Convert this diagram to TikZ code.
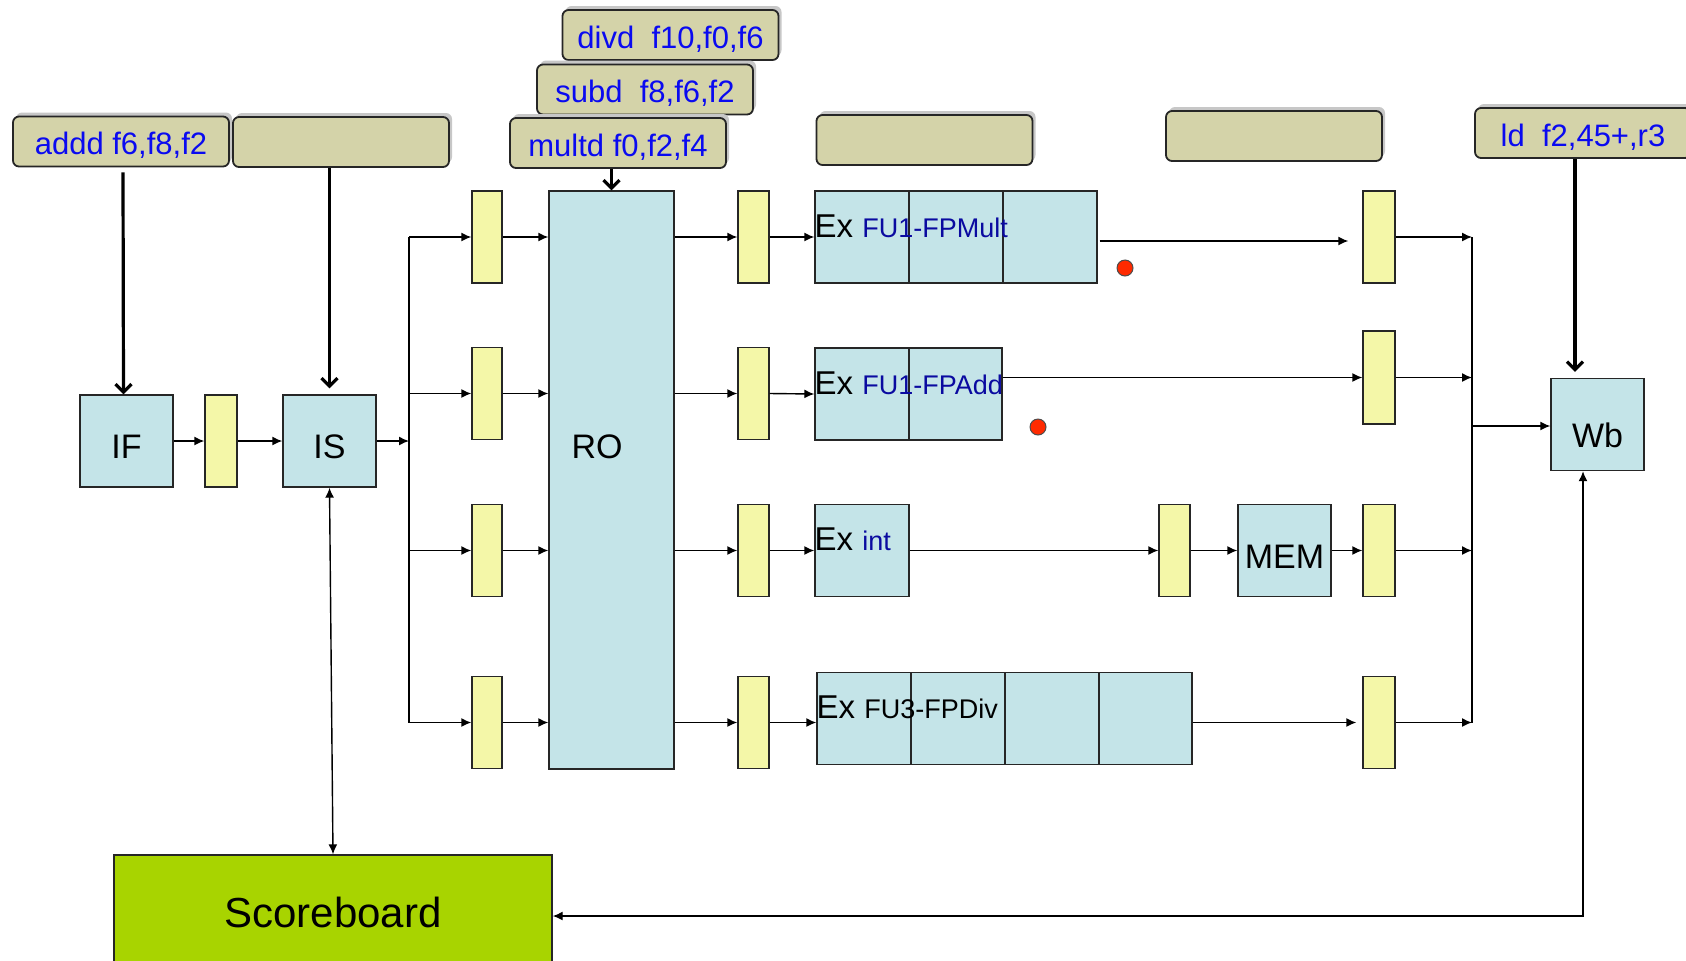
\documentclass[tikz,border=0pt]{standalone}
\usepackage{fontspec}
\setmainfont{Liberation Sans}
\usepackage{xcolor}
\usetikzlibrary{arrows.meta,shapes,positioning,calc,shadows}

\definecolor{stageblue}{HTML}{C4E4E8}
\definecolor{latchyellow}{HTML}{F4F7A8}
\definecolor{instrtan}{HTML}{D4D3A9}
\definecolor{scoregreen}{HTML}{A8D400}
\definecolor{instrblue}{HTML}{0A0AF0}
\definecolor{fublue}{HTML}{0A0AA0}
\definecolor{dotred}{HTML}{FF2A00}

\newcommand{\fulabel}[2]{{\fontsize{13.5}{16}\selectfont\color{#1}#2}}

\begin{document}
\begin{tikzpicture}[x=0.5pt,y=-0.5pt,
    stagebox/.style={rectangle,draw=black!85,line width=0.7pt,fill=stageblue,inner sep=0pt,minimum width=46.5pt,minimum height=46pt,text height=17.5pt,text depth=0pt,font=\fontsize{17}{20}\selectfont},
    latchbox/.style={rectangle,draw=black!85,line width=0.7pt,fill=latchyellow,inner sep=0pt,minimum width=15pt,minimum height=46pt},
    instrbox/.style={rectangle,draw=black!85,line width=0.9pt,fill=instrtan,rounded corners=3pt,minimum width=108pt,minimum height=25pt,inner sep=0pt,text height=13pt,text depth=0pt,text=instrblue,font=\fontsize{15.5}{18}\selectfont,drop shadow={shadow xshift=1.5pt,shadow yshift=2pt,fill=black!22,opacity=1}},
    exlabel/.style={anchor=base west,inner sep=0pt,font=\fontsize{16.5}{20}\selectfont},
    wire/.style={line width=0.7pt,-{Latex[length=5pt,width=4.5pt]}},
    twoway/.style={line width=0.7pt,{Latex[length=5pt,width=4.5pt]}-{Latex[length=5pt,width=4.5pt]}},
    busline/.style={line width=0.7pt},
    feed/.style={line width=1.6pt,-{Straight Barb[length=4pt,width=8pt]}},
    reddot/.style={circle,fill=dotred,draw=black!70,line width=0.5pt,minimum size=8pt,inner sep=0pt}
]
\useasboundingbox (0,0) rectangle (1686,960);

% instruction queue
\node[instrbox] (addd) at (121,141.5) {addd f6,f8,f2};
\node[instrbox] (isq) at (341,142) {};
\node[instrbox] (divd) at (670.5,35) {divd~~f10,f0,f6};
\node[instrbox] (subd) at (645,89.5) {subd~~f8,f6,f2};
\node[instrbox] (multd) at (618,143) {multd f0,f2,f4};
\node[instrbox] (exq) at (924.5,140) {};
\node[instrbox] (memq) at (1274,136) {};
\node[instrbox] (ld) at (1583,133) {ld~~f2,45+,r3};

% front end
\node[stagebox] (IF) at (126.5,441) {IF};
\node[latchbox,minimum width=16pt] (l0) at (221,441) {};
\node[stagebox] (IS) at (329.5,441) {IS};

% read operands
\node[stagebox,minimum width=62.5pt,minimum height=289pt] (RO) at (611.5,480) {};
\node[font=\fontsize{17}{20}\selectfont] (rolbl) at (597,447) {RO};
\foreach \row/\y in {a/237,b/393.5,c/550.5,d/722.5}{
  \node[latchbox] (la\row) at (487,\y) {};
  \node[latchbox,minimum width=15.5pt] (lb\row) at (753.5,\y) {};
}

% functional units
\node[stagebox,minimum width=47pt] (exm1) at (862,237) {};
\node[stagebox,minimum width=47pt] (exm2) at (956,237) {};
\node[stagebox,minimum width=47pt] (exm3) at (1050,237) {};
\node[stagebox,minimum width=47pt] (exa1) at (862,394) {};
\node[stagebox,minimum width=46.5pt] (exa2) at (955.5,394) {};
\node[stagebox,minimum width=47pt] (exi) at (862,550.5) {};
\node[stagebox,minimum width=47pt] (exd1) at (864,718.5) {};
\node[stagebox,minimum width=47pt] (exd2) at (958,718.5) {};
\node[stagebox,minimum width=47pt] (exd3) at (1052,718.5) {};
\node[stagebox,minimum width=46.5pt] (exd4) at (1145.5,718.5) {};
\node[exlabel] (exmlbl) at (exm1.west) {Ex \fulabel{fublue}{FU1-FPMult}};
\node[exlabel] (exalbl) at (exa1.west) {Ex \fulabel{fublue}{FU1-FPAdd}};
\node[exlabel] (exilbl) at (exi.west) {Ex \fulabel{fublue}{int}};
\node[exlabel] (exdlbl) at (exd1.west) {Ex \fulabel{black}{FU3-FPDiv}};
\node[latchbox,minimum width=15.5pt] (lm) at (1174.5,550.5) {};
\node[stagebox] (MEM) at (1284.5,550.5) {MEM};
\node[reddot] (dot1) at (1125,268) {};
\node[reddot] (dot2) at (1038,427) {};

% write back
\node[latchbox,minimum width=16pt] (lca) at (1379,237) {};
\node[latchbox,minimum width=16pt,minimum height=46.5pt] (lcb) at (1379,377.5) {};
\node[latchbox,minimum width=16pt] (lcc) at (1379,550.5) {};
\node[latchbox,minimum width=16pt] (lcd) at (1379,722.5) {};
\node[stagebox,text height=23pt] (Wb) at (1597.5,424.5) {Wb};
\node[stagebox,fill=scoregreen,minimum width=219pt,minimum height=57pt,text height=15pt,font=\fontsize{21}{24}\selectfont] (sb) at (333,912) {Scoreboard};

% connectors
\coordinate (busl) at (409,441);
\coordinate (busr) at (1472,426);
\coordinate (fb) at (1583,916);
\draw[wire] (IF) -- (l0);
\draw[wire] (l0) -- (IS);
\draw[wire] (IS.east) -- (busl);
\draw[busline] (laa.west -| busl) -- (lad.west -| busl);
\foreach \row in {a,b,c,d}{
  \draw[wire] (la\row.west -| busl) -- (la\row.west);
  \draw[wire] (la\row.east) -- (la\row.east -| RO.west);
  \draw[wire] (lb\row.west -| RO.east) -- (lb\row.west);
  \draw[wire] (lc\row.east) -- (lc\row.east -| busr);
}
\draw[wire] (lba.east) -- (exm1.west);
\draw[wire] (lbb.east) -- (exa1.west);
\draw[wire] (lbc.east) -- (exi.west);
\draw[wire] (lbd.east) -- (lbd.east -| exd1.west);
\draw[wire,shorten >=7pt] ([xshift=1pt,yshift=-2pt]exm3.east) -- ([yshift=-2pt]lca.west);
\draw[wire] (exa2.east |- lcb.west) -- (lcb.west);
\draw[wire] (exi.east) -- (lm.west);
\draw[wire] (lm.east) -- (MEM.west);
\draw[wire] (MEM.east) -- (lcc.west);
\draw[wire,shorten >=3pt] (exd4.east |- lcd.west) -- (lcd.west);
\draw[busline] (lca.east -| busr) -- (lcd.east -| busr);
\draw[wire] (busr) -- (busr -| Wb.west);
\draw[twoway] (Wb.south -| fb) -- (fb) -- (sb.east |- fb);
\draw[twoway] (IS.south) -- (sb.north);

% instructions entering stages
\draw[feed] ([xshift=1pt,yshift=-2.5pt]addd.south) -- ([xshift=-1.5pt]IF.north);
\draw[feed] (isq.south -| IS.north) -- ([yshift=3pt]IS.north);
\draw[feed] (multd.south -| RO.north) -- (RO.north);
\draw[feed] ([xshift=-4pt]ld.south) -- ([xshift=-11.25pt,yshift=3pt]Wb.north);
\end{tikzpicture}
\end{document}
